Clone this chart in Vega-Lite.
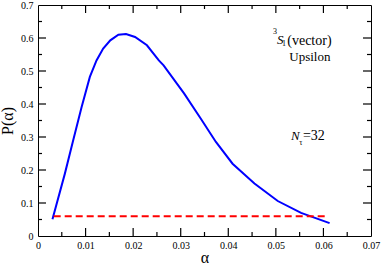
{
  "$schema": "https://vega.github.io/schema/vega-lite/v6.json",
  "width": 333,
  "height": 231,
  "autosize": {"type": "none"},
  "padding": {"left": 38, "top": 5, "right": 11, "bottom": 28},
  "background": "white",
  "config": {
    "view": {"stroke": "black", "strokeWidth": 1},
    "font": "Liberation Serif",
    "axis": {
      "labelFont": "Liberation Serif",
      "titleFont": "Liberation Serif",
      "labelColor": "black",
      "titleColor": "black",
      "labelFontSize": 10,
      "titleFontWeight": "normal",
      "grid": false
    },
    "text": {"font": "Liberation Serif", "color": "black"}
  },
  "datasets": {
    "curve": [
      {"x": 0.00304, "y": 0.0506},
      {"x": 0.00565, "y": 0.189},
      {"x": 0.0074, "y": 0.29},
      {"x": 0.00917, "y": 0.391},
      {"x": 0.0109, "y": 0.482},
      {"x": 0.0123, "y": 0.532},
      {"x": 0.0137, "y": 0.568},
      {"x": 0.0152, "y": 0.593},
      {"x": 0.0169, "y": 0.61},
      {"x": 0.0185, "y": 0.612},
      {"x": 0.0204, "y": 0.603},
      {"x": 0.0229, "y": 0.578},
      {"x": 0.0254, "y": 0.532},
      {"x": 0.0264, "y": 0.517},
      {"x": 0.0307, "y": 0.432},
      {"x": 0.0342, "y": 0.356},
      {"x": 0.0374, "y": 0.285},
      {"x": 0.0409, "y": 0.219},
      {"x": 0.0455, "y": 0.159},
      {"x": 0.0504, "y": 0.106},
      {"x": 0.0553, "y": 0.07},
      {"x": 0.0613, "y": 0.039}
    ],
    "ref": [{"x0": 0.0033, "x1": 0.061, "y": 0.06}],
    "xMajor": [{"v": 0.01}, {"v": 0.02}, {"v": 0.03}, {"v": 0.04}, {"v": 0.05}, {"v": 0.06}],
    "xMinor": [{"v": 0.005}, {"v": 0.015}, {"v": 0.025}, {"v": 0.035}, {"v": 0.045}, {"v": 0.055}, {"v": 0.065}],
    "yMajor": [{"v": 0.1}, {"v": 0.2}, {"v": 0.3}, {"v": 0.4}, {"v": 0.5}, {"v": 0.6}],
    "yMinor": [{"v": 0.05}, {"v": 0.15}, {"v": 0.25}, {"v": 0.35}, {"v": 0.45}, {"v": 0.55}, {"v": 0.65}],
    "txtLeft": [
      {"x": 0.0524, "y": 0.5794, "t": "(vector)"},
      {"x": 0.0557, "y": 0.29, "t": "=32"}
    ],
    "txtRight": [
      {"x": 0.06148, "y": 0.5309, "t": "Upsilon"}
    ],
    "txtItalic": [
      {"x": 0.0509, "y": 0.5805, "t": "S"},
      {"x": 0.0541, "y": 0.29, "t": "N"}
    ],
    "txtSmall": [
      {"x": 0.04984, "y": 0.6133, "t": "3"},
      {"x": 0.0517, "y": 0.5758, "t": "1"},
      {"x": 0.05523, "y": 0.2748, "t": "τ"}
    ]
  },
  "layer": [
    {
      "encoding": {
        "x": {
          "field": "x", "type": "quantitative",
          "scale": {"domain": [0, 0.07], "nice": false, "zero": false},
          "axis": {
            "orient": "bottom", "domain": false, "ticks": false,
            "title": "α", "titleFontSize": 16, "titlePadding": -1,
            "values": [0, 0.01, 0.02, 0.03, 0.04, 0.05, 0.06, 0.07],
            "format": ".2~f",
            "labelPadding": 4, "labelFlush": false, "labelOverlap": false
          }
        },
        "y": {
          "field": "y", "type": "quantitative",
          "scale": {"domain": [0, 0.7], "nice": false, "zero": false},
          "axis": {
            "orient": "left", "domain": false, "ticks": false,
            "title": "P(α)", "titleFontSize": 16, "titlePadding": 5,
            "values": [0, 0.1, 0.2, 0.3, 0.4, 0.5, 0.6, 0.7],
            "format": ".1~f",
            "labelPadding": 5, "labelFlush": false, "labelOverlap": false
          }
        }
      },
      "layer": [
        {
          "data": {"name": "curve"},
          "mark": {"type": "line", "color": "#0000ff", "strokeWidth": 2}
        },
        {
          "data": {"name": "txtLeft"},
          "mark": {"type": "text", "align": "left", "baseline": "alphabetic", "fontSize": 14, "font": "Liberation Serif"},
          "encoding": {"text": {"field": "t"}}
        },
        {
          "data": {"name": "txtRight"},
          "mark": {"type": "text", "align": "right", "baseline": "alphabetic", "fontSize": 13, "font": "Liberation Serif"},
          "encoding": {"text": {"field": "t"}}
        },
        {
          "data": {"name": "txtItalic"},
          "mark": {"type": "text", "align": "center", "baseline": "alphabetic", "fontSize": 13, "fontStyle": "italic", "font": "Liberation Serif"},
          "encoding": {"text": {"field": "t"}}
        },
        {
          "data": {"name": "txtSmall"},
          "mark": {"type": "text", "align": "center", "baseline": "alphabetic", "fontSize": 8, "font": "Liberation Serif"},
          "encoding": {"text": {"field": "t"}}
        }
      ]
    },
    {
      "layer": [
        {
          "data": {"name": "ref"},
          "mark": {"type": "rule", "color": "#ff0000", "strokeWidth": 2, "strokeDash": [7, 4]},
          "encoding": {
            "x": {"field": "x0", "type": "quantitative", "scale": {"domain": [0, 0.07], "nice": false, "zero": false}, "axis": null},
            "x2": {"field": "x1"},
            "y": {"field": "y", "type": "quantitative", "scale": {"domain": [0, 0.7], "nice": false, "zero": false}, "axis": null}
          }
        },
        {
          "data": {"name": "xMajor"},
          "mark": {"type": "tick", "orient": "vertical", "color": "black", "size": 8, "thickness": 1.2, "yOffset": -4, "opacity": 1},
          "encoding": {
            "x": {"field": "v", "type": "quantitative", "scale": {"domain": [0, 0.07], "nice": false, "zero": false}, "axis": null},
            "y": {"datum": 0, "type": "quantitative", "scale": {"domain": [0, 0.7], "nice": false, "zero": false}, "axis": null}
          }
        },
        {
          "data": {"name": "xMajor"},
          "mark": {"type": "tick", "orient": "vertical", "color": "black", "size": 8, "thickness": 1.2, "yOffset": 4, "opacity": 1},
          "encoding": {
            "x": {"field": "v", "type": "quantitative", "scale": {"domain": [0, 0.07], "nice": false, "zero": false}, "axis": null},
            "y": {"datum": 0.7, "type": "quantitative", "scale": {"domain": [0, 0.7], "nice": false, "zero": false}, "axis": null}
          }
        },
        {
          "data": {"name": "xMinor"},
          "mark": {"type": "tick", "orient": "vertical", "color": "black", "size": 4, "thickness": 1.2, "yOffset": -2, "opacity": 1},
          "encoding": {
            "x": {"field": "v", "type": "quantitative", "scale": {"domain": [0, 0.07], "nice": false, "zero": false}, "axis": null},
            "y": {"datum": 0, "type": "quantitative", "scale": {"domain": [0, 0.7], "nice": false, "zero": false}, "axis": null}
          }
        },
        {
          "data": {"name": "xMinor"},
          "mark": {"type": "tick", "orient": "vertical", "color": "black", "size": 4, "thickness": 1.2, "yOffset": 2, "opacity": 1},
          "encoding": {
            "x": {"field": "v", "type": "quantitative", "scale": {"domain": [0, 0.07], "nice": false, "zero": false}, "axis": null},
            "y": {"datum": 0.7, "type": "quantitative", "scale": {"domain": [0, 0.7], "nice": false, "zero": false}, "axis": null}
          }
        },
        {
          "data": {"name": "yMajor"},
          "mark": {"type": "tick", "orient": "horizontal", "color": "black", "size": 8, "thickness": 1.2, "xOffset": 4, "opacity": 1},
          "encoding": {
            "y": {"field": "v", "type": "quantitative", "scale": {"domain": [0, 0.7], "nice": false, "zero": false}, "axis": null},
            "x": {"datum": 0, "type": "quantitative", "scale": {"domain": [0, 0.07], "nice": false, "zero": false}, "axis": null}
          }
        },
        {
          "data": {"name": "yMajor"},
          "mark": {"type": "tick", "orient": "horizontal", "color": "black", "size": 8, "thickness": 1.2, "xOffset": -4, "opacity": 1},
          "encoding": {
            "y": {"field": "v", "type": "quantitative", "scale": {"domain": [0, 0.7], "nice": false, "zero": false}, "axis": null},
            "x": {"datum": 0.07, "type": "quantitative", "scale": {"domain": [0, 0.07], "nice": false, "zero": false}, "axis": null}
          }
        },
        {
          "data": {"name": "yMinor"},
          "mark": {"type": "tick", "orient": "horizontal", "color": "black", "size": 4, "thickness": 1.2, "xOffset": 2, "opacity": 1},
          "encoding": {
            "y": {"field": "v", "type": "quantitative", "scale": {"domain": [0, 0.7], "nice": false, "zero": false}, "axis": null},
            "x": {"datum": 0, "type": "quantitative", "scale": {"domain": [0, 0.07], "nice": false, "zero": false}, "axis": null}
          }
        },
        {
          "data": {"name": "yMinor"},
          "mark": {"type": "tick", "orient": "horizontal", "color": "black", "size": 4, "thickness": 1.2, "xOffset": -2, "opacity": 1},
          "encoding": {
            "y": {"field": "v", "type": "quantitative", "scale": {"domain": [0, 0.7], "nice": false, "zero": false}, "axis": null},
            "x": {"datum": 0.07, "type": "quantitative", "scale": {"domain": [0, 0.07], "nice": false, "zero": false}, "axis": null}
          }
        }
      ]
    }
  ],
  "resolve": {"scale": {"x": "independent", "y": "independent"}}
}
